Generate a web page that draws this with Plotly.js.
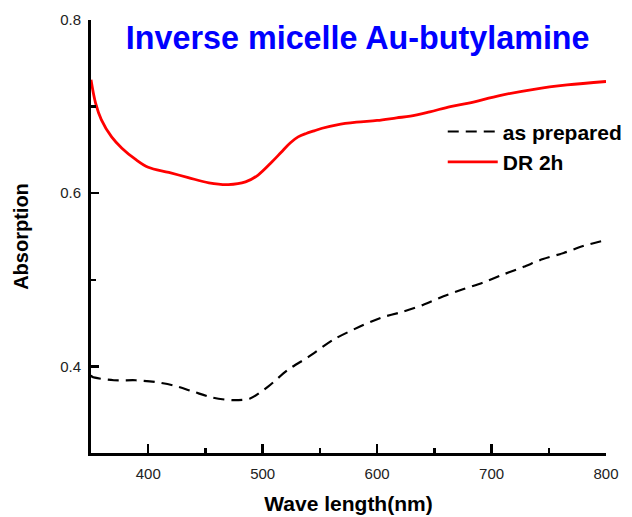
<!DOCTYPE html>
<html>
<head>
<meta charset="utf-8">
<script src="https://cdn.plot.ly/plotly-3.0.1.min.js"></script>
<style>html,body{margin:0;padding:0;background:#fff;}#chart{width:632px;height:517px;}</style>
</head>
<body>
<div id="chart"></div>
<script>
// Wavelength (nm) and absorption values
const wlPrepared = [350, 351, 370, 389, 406, 422, 439, 456, 474, 489, 505, 522, 540, 562, 585, 603, 622, 640, 658, 675, 693, 710, 728, 745, 763, 780, 800];
const absPrepared = [0.390, 0.388, 0.384, 0.384, 0.382, 0.378, 0.371, 0.364, 0.361, 0.363, 0.377, 0.396, 0.411, 0.431, 0.446, 0.456, 0.463, 0.471, 0.481, 0.489, 0.497, 0.506, 0.515, 0.524, 0.531, 0.539, 0.546];

const wlDR = [350, 354, 359, 368, 377, 389, 400, 418, 435, 453, 470, 485, 496, 508, 516, 524, 531, 538, 545, 552, 565, 582, 600, 617, 629, 646, 664, 680, 708, 737, 766, 800];
const absDR = [0.731, 0.704, 0.685, 0.665, 0.652, 0.639, 0.630, 0.624, 0.618, 0.612, 0.610, 0.613, 0.621, 0.636, 0.647, 0.658, 0.665, 0.669, 0.672, 0.675, 0.679, 0.682, 0.684, 0.687, 0.689, 0.694, 0.700, 0.704, 0.713, 0.720, 0.725, 0.729];

const seriesNames = ["as prepared", "DR 2h"];
const titleText = "Inverse micelle Au-butylamine";
const xTitle = "Wave length(nm)";
const yTitle = "Absorption";

const FONT = "Liberation Sans, Arial, sans-serif";

const traces = [
  {x: wlPrepared, y: absPrepared, name: "<b>" + seriesNames[0] + "</b>", mode: "lines",
   line: {color: "#000000", width: 2.2, dash: "11px,7px", shape: "spline", smoothing: 0.8}},
  {x: wlDR, y: absDR, name: "<b>" + seriesNames[1] + "</b>", mode: "lines",
   line: {color: "#ff0000", width: 2.8, shape: "spline", smoothing: 1}}
];

const layout = {
  width: 632, height: 517,
  margin: {l: 91, r: 26, t: 20, b: 64, autoexpand: false},
  paper_bgcolor: "#ffffff", plot_bgcolor: "#ffffff",
  font: {family: FONT, color: "#000"},
  title: {text: "<b>" + titleText + "</b>", font: {family: FONT, size: 32.3, color: "#0000ff"},
          xref: "container", x: 0.566, xanchor: "center", yref: "container", y: 0.928, yanchor: "middle"},
  xaxis: {
    range: [350, 800], dtick: 100, tick0: 400,
    showgrid: false, zeroline: false,
    showline: true, linewidth: 3, linecolor: "#000",
    ticks: "inside", ticklen: 9, tickwidth: 2.5, tickcolor: "#000",
    minor: {dtick: 50, ticks: "inside", ticklen: 5, tickwidth: 2.5, tickcolor: "#000"},
    tickfont: {family: FONT, size: 15, color: "#222"},
    ticklabelstandoff: 5,
    title: {text: "<b>" + xTitle + "</b>", font: {family: FONT, size: 21, color: "#000"}, standoff: 16}
  },
  yaxis: {
    range: [0.3, 0.8], tickvals: [0.4, 0.6, 0.8], ticktext: ["0.4", "0.6", "0.8"],
    showgrid: false, zeroline: false,
    showline: true, linewidth: 3, linecolor: "#000",
    ticks: "inside", ticklen: 8, tickwidth: 2.5, tickcolor: "#000",
    minor: {tickvals: [0.3, 0.5, 0.7], ticks: "inside", ticklen: 5, tickwidth: 2.5, tickcolor: "#000"},
    tickfont: {family: FONT, size: 15, color: "#222"},
    ticklabelstandoff: 4,
    title: {text: "<b>" + yTitle + "</b>", font: {family: FONT, size: 20, color: "#000"}, standoff: 27}
  },
  showlegend: true,
  legend: {x: 0.683, y: 0.789, xanchor: "left", yanchor: "top", bgcolor: "rgba(0,0,0,0)",
           font: {family: FONT, size: 21, color: "#000"}, itemwidth: 50, tracegroupgap: 0}
};

Plotly.newPlot("chart", traces, layout, {displayModeBar: false, staticPlot: true});
</script>
</body>
</html>
